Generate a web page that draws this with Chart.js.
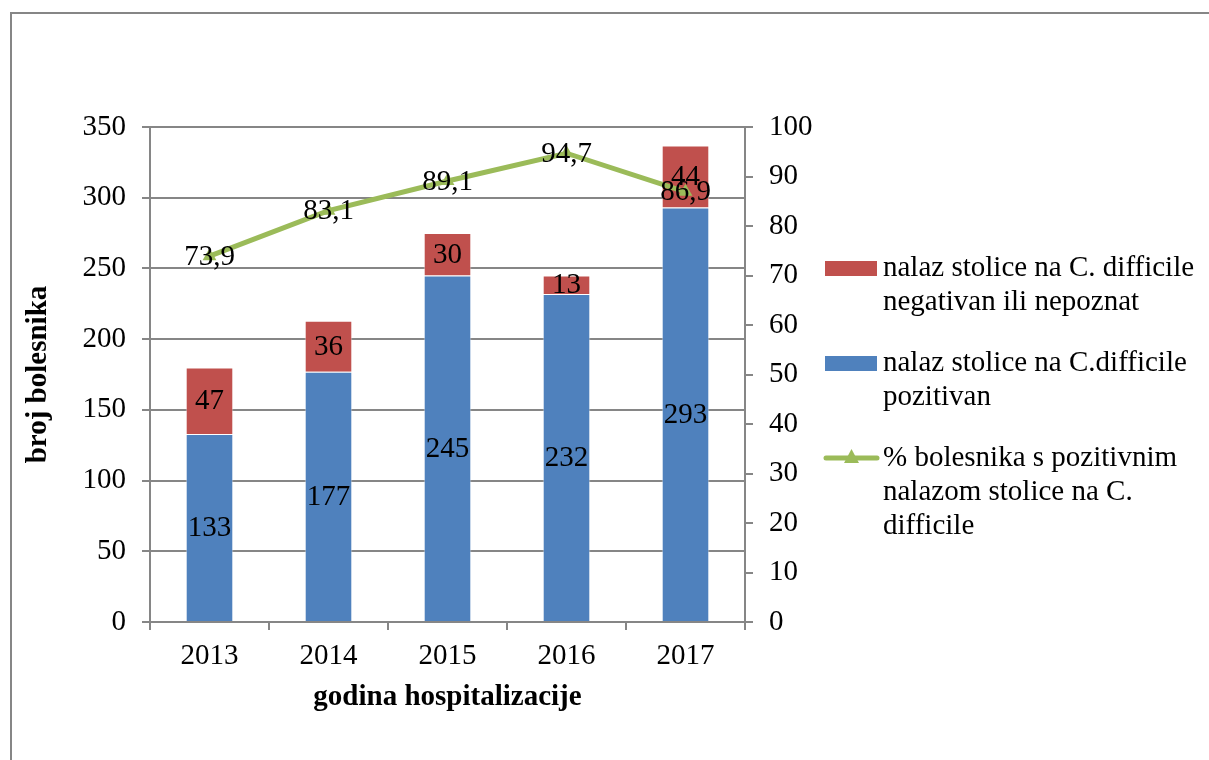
<!DOCTYPE html>
<html>
<head>
<meta charset="utf-8">
<script src="https://cdn.jsdelivr.net/npm/chart.js@4"></script>
<style>
  html, body { margin: 0; padding: 0; background: #fff; }
  #wrap { width: 1209px; height: 760px; position: relative; }
</style>
</head>
<body>
<div id="wrap"><canvas id="myChart" width="1209" height="760"></canvas></div>
<script>
// data
var years = ['2013', '2014', '2015', '2016', '2017'];
var positiveCounts = [133, 177, 245, 232, 293];
var negativeCounts = [47, 36, 30, 13, 44];
var positivePercent = [73.9, 83.1, 89.1, 94.7, 86.9];

var legendLines = [
    ['nalaz stolice na C. difficile', 'negativan ili nepoznat'],
    ['nalaz stolice na C.difficile', 'pozitivan'],
    ['% bolesnika s pozitivnim', 'nalazom stolice na C.', 'difficile']
];

var FONT = '"Liberation Serif", "Times New Roman", serif';
var GRAY = '#868686';
var BLUE = '#4F81BD';
var RED = '#C0504D';
var GREEN = '#9BBB59';

function fmt(v) {
    return String(v).replace('.', ',');
}

// frame + data labels + legend, all on the canvas
var extras = {
    id: 'extras',
    beforeDraw: function (chart) {
        var ctx = chart.ctx;
        ctx.save();
        ctx.fillStyle = '#fff';
        ctx.fillRect(0, 0, chart.width, chart.height);
        ctx.strokeStyle = GRAY;
        ctx.lineWidth = 2;
        ctx.strokeRect(11, 13, 1300, 900);
        ctx.restore();
    },
    afterDatasetsDraw: function (chart) {
        var ctx = chart.ctx;
        ctx.save();
        ctx.font = '29px ' + FONT;
        ctx.fillStyle = '#000';
        ctx.textAlign = 'center';
        ctx.textBaseline = 'middle';
        chart.data.datasets.forEach(function (ds, i) {
            var meta = chart.getDatasetMeta(i);
            meta.data.forEach(function (el, j) {
                var x = el.x, y;
                if (ds.type === 'line') {
                    y = el.y;
                } else {
                    y = (el.y + el.base) / 2;
                }
                ctx.fillText(fmt(ds.data[j]), x, y + 1);
            });
        });
        ctx.restore();
    },
    afterDraw: function (chart) {
        var ctx = chart.ctx;
        ctx.save();
        ctx.font = '29px ' + FONT;
        ctx.textAlign = 'left';
        ctx.textBaseline = 'middle';
        var order = [2, 1, 0]; // negative, positive, percent
        var tops = [268, 363, 458];
        order.forEach(function (dsIndex, k) {
            var ds = chart.data.datasets[dsIndex];
            var y0 = tops[k];
            if (ds.type === 'line') {
                ctx.strokeStyle = GREEN;
                ctx.lineWidth = 5;
                ctx.lineCap = 'round';
                ctx.beginPath();
                ctx.moveTo(826, y0);
                ctx.lineTo(877, y0);
                ctx.stroke();
                ctx.fillStyle = GREEN;
                ctx.beginPath();
                ctx.moveTo(851.5, y0 - 9);
                ctx.lineTo(859, y0 + 5);
                ctx.lineTo(844, y0 + 5);
                ctx.closePath();
                ctx.fill();
            } else {
                ctx.fillStyle = ds.backgroundColor;
                ctx.fillRect(825, y0 - 7, 52, 15);
            }
            ctx.fillStyle = '#000';
            legendLines[k].forEach(function (line, n) {
                ctx.fillText(line, 883, y0 + n * 34);
            });
        });
        ctx.restore();
    }
};

var ctx = document.getElementById('myChart');
var myChart = new Chart(ctx, {
    type: 'bar',
    data: {
        labels: years,
        datasets: [
            {
                type: 'line',
                label: '% bolesnika s pozitivnim nalazom stolice na C. difficile',
                data: positivePercent,
                yAxisID: 'y1',
                borderColor: GREEN,
                backgroundColor: GREEN,
                borderWidth: 5,
                pointStyle: 'triangle',
                pointRadius: 8,
                pointBorderWidth: 0,
                tension: 0,
                order: 0
            },
            {
                label: 'nalaz stolice na C.difficile pozitivan',
                data: positiveCounts,
                backgroundColor: BLUE,
                borderColor: 'rgba(255,255,255,0.5)',
                borderWidth: 1,
                stack: 's',
                yAxisID: 'y',
                order: 1
            },
            {
                label: 'nalaz stolice na C. difficile negativan ili nepoznat',
                data: negativeCounts,
                backgroundColor: RED,
                borderColor: 'rgba(255,255,255,0.5)',
                borderWidth: 1,
                stack: 's',
                yAxisID: 'y',
                order: 2
            }
        ]
    },
    options: {
        responsive: false,
        animation: false,
        events: [],
        layout: { padding: { left: 0, top: 127, right: 0, bottom: 0 } },
        datasets: {
            bar: { categoryPercentage: 1, barPercentage: 0.4 }
        },
        plugins: {
            legend: { display: false },
            tooltip: { enabled: false }
        },
        scales: {
            x: {
                stacked: true,
                afterFit: function (scale) { scale.height = 138; },
                grid: {
                    offset: true,
                    drawOnChartArea: false,
                    drawTicks: true,
                    tickLength: 8,
                    color: GRAY,
                    lineWidth: 2
                },
                border: { color: GRAY, width: 2 },
                ticks: { color: '#000', padding: 9, font: { family: FONT, size: 29 } },
                title: {
                    display: true,
                    text: 'godina hospitalizacije',
                    color: '#000',
                    font: { family: FONT, size: 29, weight: 'bold' },
                    padding: { top: 0, bottom: 45 }
                }
            },
            y: {
                position: 'left',
                stacked: true,
                min: 0,
                max: 350,
                afterFit: function (scale) { scale.width = 150; },
                ticks: { stepSize: 50, color: '#000', padding: 16, font: { family: FONT, size: 29 } },
                grid: { color: GRAY, lineWidth: 2, tickLength: 8 },
                border: { color: GRAY, width: 2 },
                title: {
                    display: true,
                    text: 'broj bolesnika',
                    color: '#000',
                    font: { family: FONT, size: 29, weight: 'bold' },
                    padding: { top: 21, bottom: 0 }
                }
            },
            y1: {
                position: 'right',
                min: 0,
                max: 100,
                afterFit: function (scale) { scale.width = 464; },
                ticks: { stepSize: 10, color: '#000', padding: 16, font: { family: FONT, size: 29 } },
                grid: { drawOnChartArea: false, color: GRAY, lineWidth: 2, tickLength: 8 },
                border: { color: GRAY, width: 2 }
            }
        }
    },
    plugins: [extras]
});
</script>
</body>
</html>
